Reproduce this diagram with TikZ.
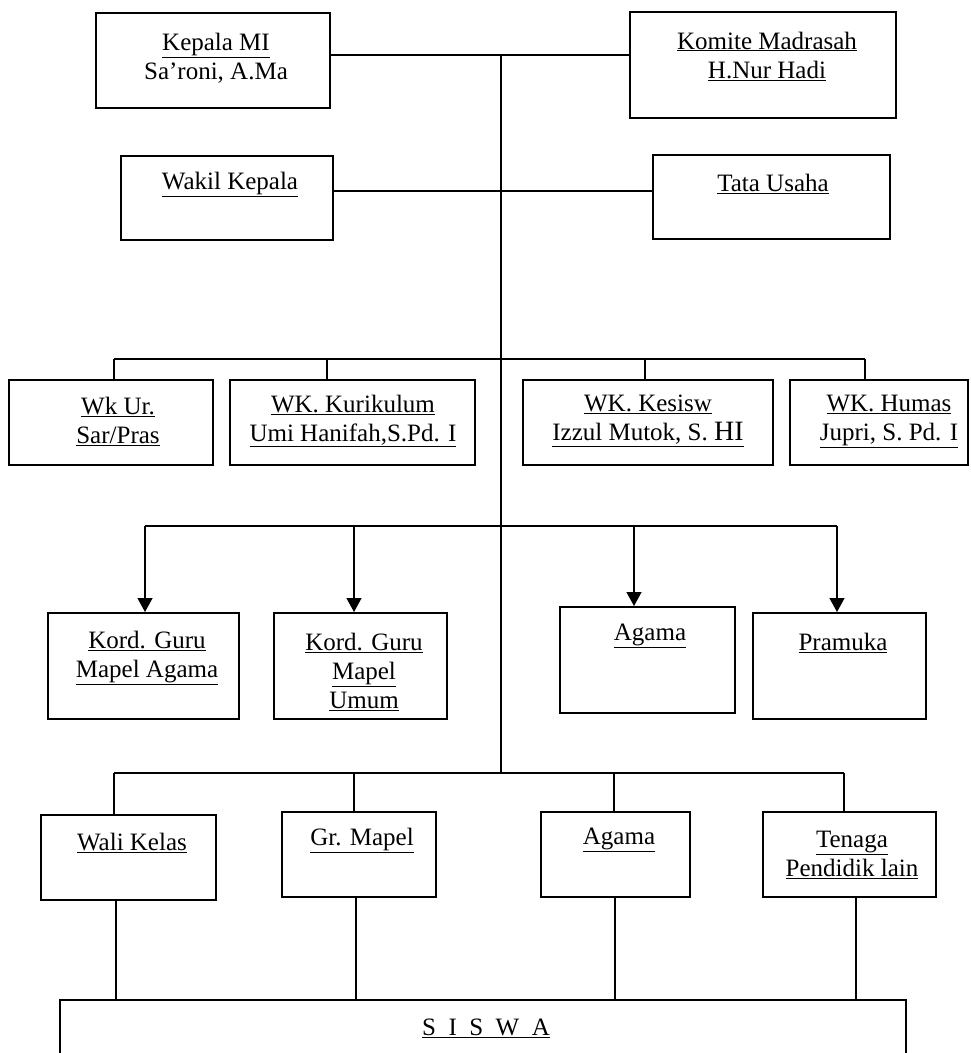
\documentclass[tikz,border=0pt]{standalone}
\usepackage{fontspec}
\setmainfont{Liberation Serif}
\usetikzlibrary{arrows.meta}
\begin{document}
\begin{tikzpicture}[x=1pt,y=-1pt,
  orgbox/.style={draw, line width=2pt, inner sep=0pt},
  lbl/.style={align=center, inner sep=0pt, font=\fontsize{25}{29}\selectfont},
  conn/.style={line width=1.4pt},
  arr/.style={conn, -{Triangle[length=14pt,width=15pt]}}]
\useasboundingbox (0,0) rectangle (970,1053);
% boxes
\node[orgbox, minimum width=234pt, minimum height=95pt] (kepala) at (213,60.5) {};
\node[orgbox, minimum width=266pt, minimum height=106pt] (komite) at (763,65) {};
\node[orgbox, minimum width=212pt, minimum height=84pt] (wakil) at (227,198) {};
\node[orgbox, minimum width=237pt, minimum height=84pt] (tu) at (771.5,197) {};
\node[orgbox, minimum width=204pt, minimum height=85pt] (wkur) at (111,422.5) {};
\node[orgbox, minimum width=245pt, minimum height=85pt] (wkkur) at (352.5,422.5) {};
\node[orgbox, minimum width=250pt, minimum height=85pt] (wkkes) at (648,422.5) {};
\node[orgbox, minimum width=178pt, minimum height=85pt] (wkhum) at (879,422.5) {};
\node[orgbox, minimum width=191pt, minimum height=106pt] (kga) at (143.5,666) {};
\node[orgbox, minimum width=173pt, minimum height=106pt] (kgu) at (360.5,666) {};
\node[orgbox, minimum width=175pt, minimum height=106pt] (agaa) at (647.5,660) {};
\node[orgbox, minimum width=173pt, minimum height=106pt] (pram) at (839.5,666) {};
\node[orgbox, minimum width=175pt, minimum height=85pt] (wali) at (128.5,857.5) {};
\node[orgbox, minimum width=154pt, minimum height=85pt] (grm) at (359,854.5) {};
\node[orgbox, minimum width=149pt, minimum height=85pt] (agab) at (615.5,854.5) {};
\node[orgbox, minimum width=173pt, minimum height=85pt] (ten) at (849.5,854.5) {};
\node[orgbox, minimum width=846pt, minimum height=90pt] (siswa) at (483,1045) {};
% labels
\node[lbl] (kepala-t) at (216,58) {\underline{Kepala MI}\\Sa'roni, A.Ma};
\node[lbl] (komite-t) at (767,56) {\underline{Komite Madrasah}\\\underline{H.Nur Hadi}};
\node[lbl] (wakil-t) at (230,184) {\underline{Wakil Kepala}};
\node[lbl] (tu-t) at (773,184) {\underline{Tata Usaha}};
\node[lbl] (wkur-t) at (118,421) {\underline{Wk Ur.}\\\underline{Sar/Pras}};
\node[lbl] (wkkur-t) at (353,421) {\underline{WK. Kurikulum}\\\underline{Umi Hanifah,S.Pd. I}};
\node[lbl] (wkkes-t) at (648,421) {\underline{WK. Kesisw}\\\underline{Izzul Mutok, S. {\fontsize{28}{29}\selectfont HI}}};
\node[lbl] (wkhum-t) at (889,421) {\underline{WK. Humas}\\\underline{Jupri, S. Pd. I}};
\node[lbl] (kga-t) at (147,658) {\underline{Kord. Guru}\\\underline{Mapel Agama}};
\node[lbl] (kgu-t) at (364,672) {\underline{Kord. Guru}\\\underline{Mapel}\\\underline{Umum}};
\node[lbl] (agaa-t) at (650,636) {\underline{Agama}};
\node[lbl] (pram-t) at (843,643) {\underline{Pramuka}};
\node[lbl] (wali-t) at (132,843) {\underline{Wali Kelas}};
\node[lbl] (grm-t) at (362,840) {\underline{Gr. Mapel}};
\node[lbl] (agab-t) at (619,840) {\underline{Agama}};
\node[lbl] (ten-t) at (852,855) {\underline{Tenaga}\\\underline{Pendidik lain}};
\node[lbl] (siswa-t) at (486,1028) {\underline{S\ \ I\ \ S\ \ W\ \ A}};
% junctions
\coordinate (j0) at (501,55);
\coordinate (j1) at (501,191);
\coordinate (j4) at (501,773);
\coordinate (b2a) at (114,359);
\coordinate (b2b) at (327,359);
\coordinate (b2c) at (645,359);
\coordinate (b2d) at (865,359);
\coordinate (b3a) at (145,526);
\coordinate (b3b) at (354,526);
\coordinate (b3c) at (634,526);
\coordinate (b3d) at (837,526);
\coordinate (b4a) at (114,773);
\coordinate (b4b) at (354,773);
\coordinate (b4c) at (614,773);
\coordinate (b4d) at (844,773);
\coordinate (s1) at (116,1000);
\coordinate (s2) at (356,1000);
\coordinate (s3) at (615,1000);
\coordinate (s4) at (856,1000);
% connectors
\draw[conn] (kepala.east |- j0) -- (komite.west |- j0);
\draw[conn] (j0) -- (j4);
\draw[conn] (wakil.east |- j1) -- (tu.west |- j1);
\draw[conn] (b2a) -- (b2d);
\draw[conn] (b2a) -- (wkur.north -| b2a);
\draw[conn] (b2b) -- (wkkur.north -| b2b);
\draw[conn] (b2c) -- (wkkes.north -| b2c);
\draw[conn] (b2d) -- (wkhum.north -| b2d);
\draw[conn] (b3a) -- (b3d);
\draw[arr] (b3a) -- (kga.north -| b3a);
\draw[arr] (b3b) -- (kgu.north -| b3b);
\draw[arr] (b3c) -- (agaa.north -| b3c);
\draw[arr] (b3d) -- (pram.north -| b3d);
\draw[conn] (b4a) -- (b4d);
\draw[conn] (b4a) -- (wali.north -| b4a);
\draw[conn] (b4b) -- (grm.north -| b4b);
\draw[conn] (b4c) -- (agab.north -| b4c);
\draw[conn] (b4d) -- (ten.north -| b4d);
\draw[conn] (wali.south -| s1) -- (siswa.north -| s1);
\draw[conn] (grm.south -| s2) -- (siswa.north -| s2);
\draw[conn] (agab.south -| s3) -- (siswa.north -| s3);
\draw[conn] (ten.south -| s4) -- (siswa.north -| s4);
\end{tikzpicture}
\end{document}
